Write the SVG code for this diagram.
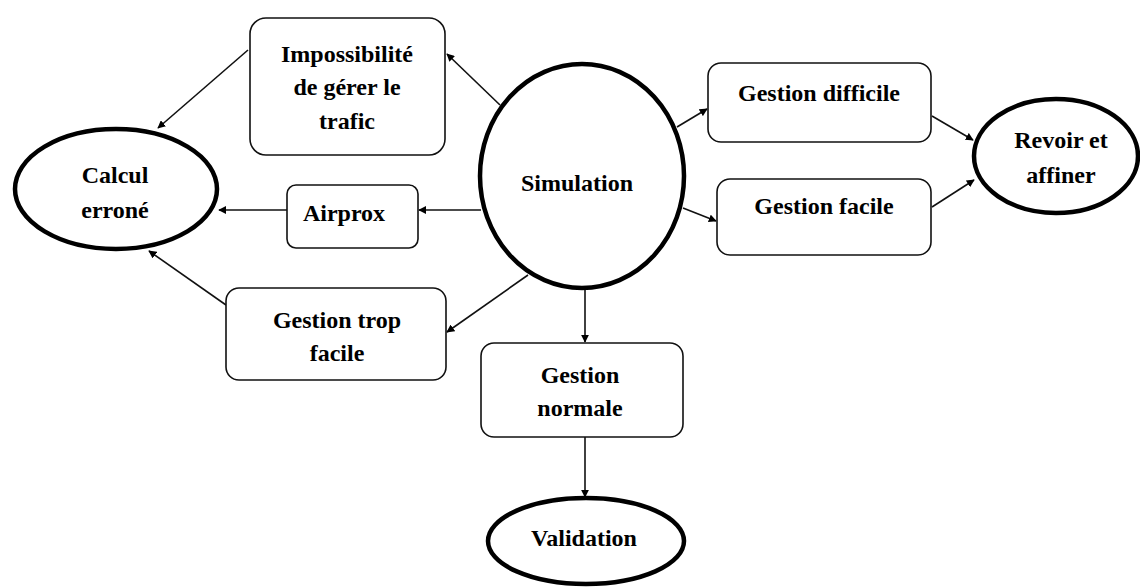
<svg xmlns="http://www.w3.org/2000/svg" width="1140" height="587" viewBox="0 0 1140 587">
<style>
.box{fill:#fff;stroke:#111;stroke-width:1.6}
.ell{fill:#fff;stroke:#000;stroke-width:4.5}
.t{font-family:"Liberation Serif","Times New Roman",serif;font-weight:bold;font-size:24px;fill:#000;text-anchor:middle}
.c{stroke:#111;stroke-width:1.6;fill:none;marker-end:url(#ah)}
</style>
<defs>
<marker id="ah" viewBox="0 0 10 10" refX="9" refY="5" markerWidth="8" markerHeight="8" markerUnits="userSpaceOnUse" orient="auto">
<path d="M0,0 L10,5 L0,10 z" fill="#000"/>
</marker>
</defs>
<g id="connectors">
<line class="c" x1="248" y1="50" x2="158" y2="128"/>
<line class="c" x1="287" y1="210" x2="219" y2="210"/>
<line class="c" x1="481" y1="210" x2="419" y2="210"/>
<line class="c" x1="500" y1="105" x2="447" y2="54"/>
<line class="c" x1="226" y1="305" x2="149" y2="251"/>
<line class="c" x1="528" y1="275" x2="447" y2="332"/>
<line class="c" x1="677" y1="127" x2="707" y2="109"/>
<line class="c" x1="683" y1="208" x2="716" y2="221"/>
<line class="c" x1="932" y1="116" x2="973" y2="140"/>
<line class="c" x1="932" y1="207" x2="974" y2="180"/>
<line class="c" x1="585" y1="289" x2="585" y2="342"/>
<line class="c" x1="585" y1="437" x2="585" y2="497"/>
</g>
<g id="impossibilite">
<rect class="box" x="250" y="18" width="195" height="137" rx="16"/>
<text class="t" x="347" y="62">Impossibilité</text>
<text class="t" x="347" y="95">de gérer le</text>
<text class="t" x="347" y="129">trafic</text>
</g>
<g id="calcul">
<ellipse class="ell" cx="116" cy="189" rx="101" ry="60"/>
<text class="t" x="115" y="183">Calcul</text>
<text class="t" x="115" y="218">erroné</text>
</g>
<g id="airprox">
<rect class="box" x="287" y="185" width="131" height="63" rx="9"/>
<text class="t" x="344" y="221">Airprox</text>
</g>
<g id="simulation">
<ellipse class="ell" cx="582" cy="176" rx="102" ry="112"/>
<text class="t" x="577" y="191">Simulation</text>
</g>
<g id="gestion-difficile">
<rect class="box" x="708" y="63" width="223" height="79" rx="13"/>
<text class="t" x="819" y="101">Gestion difficile</text>
</g>
<g id="gestion-facile">
<rect class="box" x="717" y="179" width="214" height="76" rx="13"/>
<text class="t" x="824" y="214">Gestion facile</text>
</g>
<g id="revoir">
<ellipse class="ell" cx="1056" cy="156" rx="82" ry="57"/>
<text class="t" x="1061" y="148">Revoir et</text>
<text class="t" x="1061" y="183">affiner</text>
</g>
<g id="gestion-trop-facile">
<rect class="box" x="226" y="288" width="220" height="92" rx="13"/>
<text class="t" x="337" y="328">Gestion trop</text>
<text class="t" x="337" y="361">facile</text>
</g>
<g id="gestion-normale">
<rect class="box" x="481" y="343" width="202" height="94" rx="13"/>
<text class="t" x="580" y="383">Gestion</text>
<text class="t" x="580" y="416">normale</text>
</g>
<g id="validation">
<ellipse class="ell" cx="586" cy="541" rx="98" ry="43"/>
<text class="t" x="584" y="546">Validation</text>
</g>
</svg>
